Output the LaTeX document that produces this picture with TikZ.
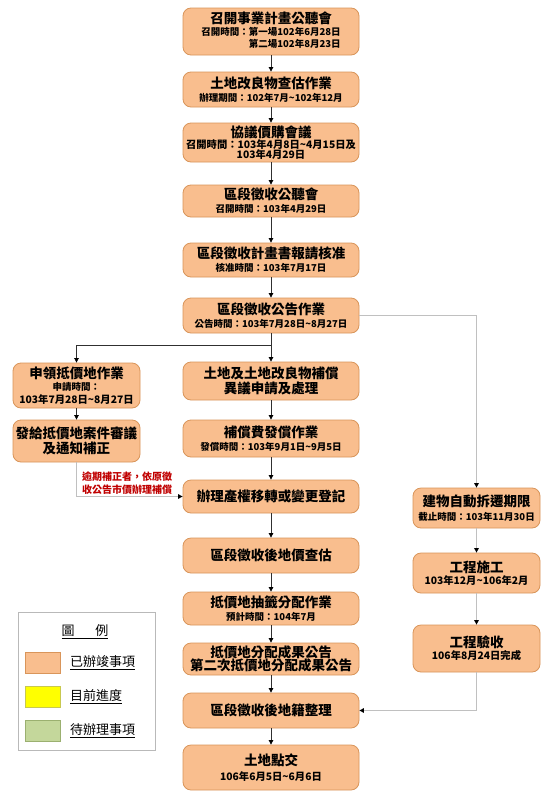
\documentclass[tikz,border=0pt]{standalone}
\usepackage{fontspec}
\setmainfont{Noto Sans CJK TC}
\usetikzlibrary{arrows.meta}
\definecolor{boxfill}{HTML}{F9BE8E}
\definecolor{boxdraw}{HTML}{D9955A}
\definecolor{legyellow}{HTML}{FFFF00}
\definecolor{yellowdraw}{HTML}{C8C850}
\definecolor{leggreen}{HTML}{C4D79B}
\definecolor{greendraw}{HTML}{9BB070}
\definecolor{notered}{HTML}{C00000}
\definecolor{greyline}{HTML}{C0C0C0}
\definecolor{darkline}{HTML}{303030}
\newcommand\ttlfont{\fontsize{13.5}{16.5}\selectfont\bfseries}
\newcommand\subfont{\fontsize{9.5}{12.5}\selectfont\bfseries}
\newcommand\subbigfont{\fontsize{10.3}{13}\selectfont\bfseries}
\newcommand\legfont{\fontsize{13}{15}\selectfont}
\begin{document}
\begin{tikzpicture}[x=1pt,y=-1pt,
  stagebox/.style={draw=boxdraw, fill=boxfill, rounded corners=8pt, align=center, inner sep=1pt, line width=0.8pt},
  mainbox/.style={stagebox, minimum width=176pt},
  sidebox/.style={stagebox, minimum width=127pt},
  flow/.style={draw=darkline, line width=0.7pt, -{Triangle[length=4.5pt,width=4.5pt,color=black]}},
  softflow/.style={draw=greyline, line width=1.1pt, -{Triangle[length=4.5pt,width=4.5pt,color=black]}},
  swatch/.style={minimum width=35pt, minimum height=21pt, inner sep=0pt, line width=0.8pt},
  leglabel/.style={anchor=west, inner sep=0pt}
]
\fill[white] (0,0) rectangle (550,806);
\useasboundingbox (0,0) rectangle (550,806);

% main column
\node[mainbox, minimum height=47pt] (n1) at (271,31.5) {{\ttlfont 召開事業計畫公聽會}\\[1.5pt]{\subfont\begin{tabular}{@{}r@{}}召開時間：第一場102年6月28日\\[-0.5pt]第二場102年8月23日\end{tabular}}};
\node[mainbox, minimum height=35pt] (n2) at (271,89.5) {{\ttlfont 土地改良物查估作業}\\[1pt]{\subfont 辦理期間：102年7月\textasciitilde102年12月}};
\node[mainbox, minimum height=39pt] (n3) at (271,142.5) {{\ttlfont 協議價購會議}\\[-1pt]{\subbigfont 召開時間：103年4月8日\textasciitilde4月15日及}\\[-2pt]{\subbigfont 103年4月29日}};
\node[mainbox, minimum height=32pt] (n4) at (271,201) {{\ttlfont 區段徵收公聽會}\\[1pt]{\subfont 召開時間：103年4月29日}};
\node[mainbox, minimum height=34pt] (n5) at (271,260) {{\ttlfont 區段徵收計畫書報請核准}\\[1pt]{\subfont 核准時間：103年7月17日}};
\node[mainbox, minimum height=35pt] (n6) at (271,315.5) {{\ttlfont 區段徵收公告作業}\\[1pt]{\subfont 公告時間：103年7月28日\textasciitilde8月27日}};
\node[mainbox, minimum height=38pt] (n7) at (271,381) {{\ttlfont 土地及土地改良物補償}\\[1pt]{\ttlfont 異議申請及處理}};
\node[mainbox, minimum height=37pt] (n8) at (271,438.5) {{\ttlfont 補償費發償作業}\\[1.5pt]{\subfont 發償時間：103年9月1日\textasciitilde9月5日}};
\node[mainbox, minimum height=33pt] (n9) at (271,496.5) {\ttlfont 辦理產權移轉或變更登記};
\node[mainbox, minimum height=35pt] (n10) at (271,555.5) {\ttlfont 區段徵收後地價查估};
\node[mainbox, minimum height=33pt] (n11) at (271,608.5) {{\ttlfont 抵價地抽籤分配作業}\\[1pt]{\subfont 預計時間：104年7月}};
\node[mainbox, minimum height=32pt] (n12) at (271,659) {{\ttlfont 抵價地分配成果公告}\\[-1pt]{\ttlfont 第二次抵價地分配成果公告}};
\node[mainbox, minimum height=35pt] (n13) at (271,710.5) {\ttlfont 區段徵收後地籍整理};
\node[mainbox, minimum height=45pt] (n14) at (271,767.5) {{\ttlfont 土地點交}\\[3pt]{\subbigfont 106年6月5日\textasciitilde6月6日}};

% left column
\node[sidebox, minimum height=45pt] (l1) at (76.5,385.5) {{\ttlfont 申領抵價地作業}\\{\subfont 申請時間：}\\[1pt]{\subbigfont 103年7月28日\textasciitilde8月27日}};
\node[sidebox, minimum height=42pt] (l2) at (76.5,441) {{\ttlfont 發給抵價地案件審議}\\[1pt]{\ttlfont 及通知補正}};
\node[text=notered, align=left, anchor=west, inner sep=0pt, font=\fontsize{10}{13}\selectfont\bfseries] (note) at (82,483.5) {逾期補正者，依原徵\\收公告市價辦理補償};

% right column
\node[sidebox, minimum height=40pt] (r1) at (476.5,508) {{\ttlfont 建物自動拆遷期限}\\[2pt]{\subfont 截止時間：103年11月30日}};
\node[sidebox, minimum height=40pt] (r2) at (476.5,573) {{\ttlfont 工程施工}\\{\subbigfont 103年12月\textasciitilde106年2月}};
\node[sidebox, minimum height=47pt] (r3) at (476.5,648.5) {{\ttlfont 工程驗收}\\{\subbigfont 106年8月24日完成}};

% connectors main
\draw[flow] (n1) -- (n2);
\draw[flow] (n2) -- (n3);
\draw[flow] (n3) -- (n4);
\draw[flow] (n4) -- (n5);
\draw[flow] (n5) -- (n6);
\draw[flow] (n6) -- (n7);
\draw[flow] (n7) -- (n8);
\draw[flow] (n8) -- (n9);
\draw[flow] (n9) -- (n10);
\draw[flow] (n10) -- (n11);
\draw[flow] (n11) -- (n12);
\draw[flow] (n12) -- (n13);
\draw[flow] (n13) -- (n14);
\coordinate (split) at (271,345);
\draw[flow] (split) -| (l1.north);
\draw[flow] (l1) -- (l2);
\draw[softflow] (l2.south) |- (n9.west);
\draw[softflow] (n6.east) -| (r1.north);
\draw[softflow] (r1) -- (r2);
\draw[softflow] (r2) -- (r3);
\draw[softflow] (r3.south) |- (n13.east);

% legend
\node[draw=gray!55, line width=0.7pt, minimum width=137pt, minimum height=138pt, inner sep=0pt] (legend) at (86.5,681) {};
\node (legtitle) at (85,632) {\legfont\underline{圖\hspace{1.6em}例}};
\node[swatch, draw=boxdraw, fill=boxfill] (sw1) at (42.5,662.5) {};
\node[swatch, draw=yellowdraw, fill=legyellow] (sw2) at (42.5,696.5) {};
\node[swatch, draw=greendraw, fill=leggreen] (sw3) at (42.5,731) {};
\node[leglabel] (lab1) at (70,662.5) {\legfont\underline{已辦竣事項}};
\node[leglabel] (lab2) at (70,696.5) {\legfont\underline{目前進度}};
\node[leglabel] (lab3) at (70,731) {\legfont\underline{待辦理事項}};
\end{tikzpicture}
\end{document}
